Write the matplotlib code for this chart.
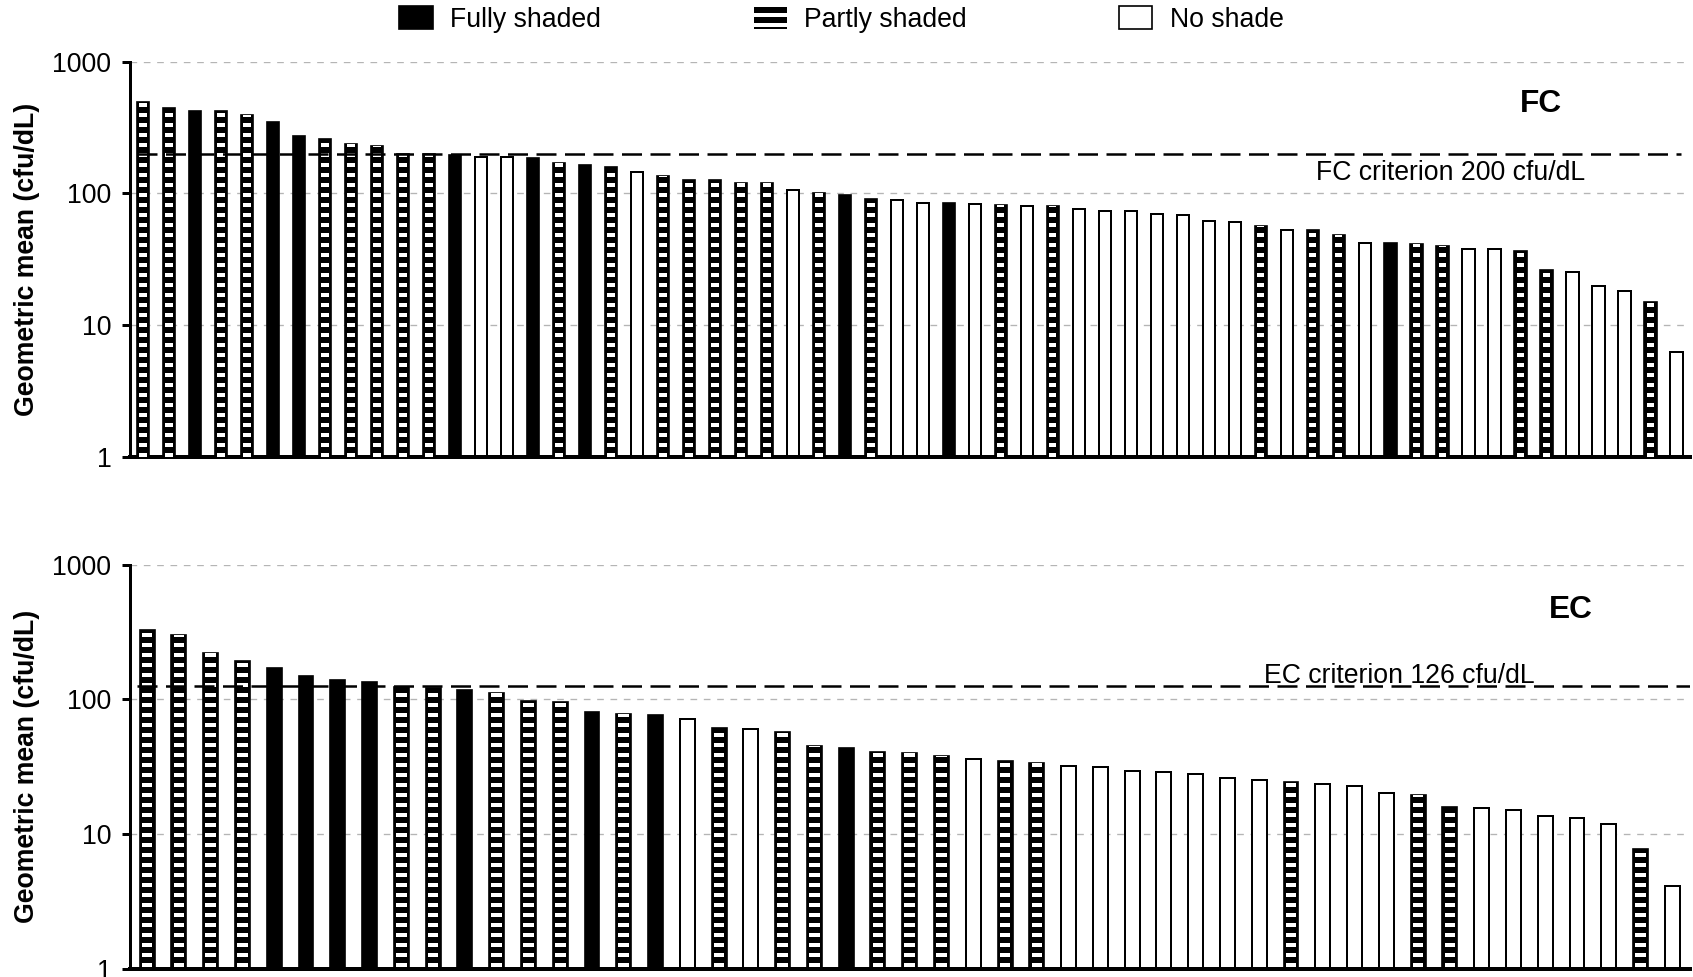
import numpy as np
import matplotlib
matplotlib.use('Agg')
import matplotlib.pyplot as plt
import matplotlib.patches as mpatches
from matplotlib.ticker import FixedLocator, FixedFormatter, NullLocator

# geometric means, sorted high to low as in the figure
fc_values = [491, 444, 419, 419, 396, 346, 272, 258, 238, 230,
             197, 197, 194, 189, 189, 185, 169, 163, 157, 146,
             136, 127, 127, 120, 119, 105, 101, 96.6, 90.6, 88.5,
             84.9, 84.4, 82.9, 81.5, 80, 80, 75.5, 73.3, 73.3, 69.5,
             68, 61.2, 60.8, 56.3, 52.8, 52.5, 48.1, 42.3, 41.8, 41.1,
             39.7, 37.8, 37.6, 36.6, 26.2, 25.3, 19.7, 18.0, 14.9, 6.2]
# F = fully shaded, P = partly shaded, N = no shade
fc_shade = ['P', 'P', 'F', 'P', 'P', 'F', 'F', 'P', 'P', 'P',
            'P', 'P', 'F', 'N', 'N', 'F', 'P', 'F', 'P', 'N',
            'P', 'P', 'P', 'P', 'P', 'N', 'P', 'F', 'P', 'N',
            'N', 'F', 'N', 'P', 'N', 'P', 'N', 'N', 'N', 'N',
            'N', 'N', 'N', 'P', 'N', 'P', 'P', 'N', 'F', 'P',
            'P', 'N', 'N', 'P', 'P', 'N', 'N', 'N', 'P', 'N']

ec_values = [325, 302, 221, 191, 171, 149, 138, 134, 124, 122,
             117, 111, 97.8, 95.6, 80.2, 77.5, 77, 70.8, 61.1, 60.4,
             57.1, 45.0, 43.5, 40.4, 39.7, 37.9, 36.1, 34.6, 33.5, 32.2,
             31.6, 29.5, 28.8, 28.1, 25.9, 25.1, 24.4, 23.6, 22.5, 20.2,
             19.3, 15.9, 15.7, 15.0, 13.5, 13.1, 11.9, 7.75, 4.13]
ec_shade = ['P', 'P', 'P', 'P', 'F', 'F', 'F', 'F', 'P', 'P',
            'F', 'P', 'P', 'P', 'F', 'P', 'F', 'N', 'P', 'N',
            'P', 'P', 'F', 'P', 'P', 'P', 'N', 'P', 'P', 'N',
            'N', 'N', 'N', 'N', 'N', 'N', 'P', 'N', 'N', 'N',
            'P', 'P', 'N', 'N', 'N', 'N', 'N', 'P', 'N']

fc_criterion = 200
ec_criterion = 126
y_ticks = [1, 10, 100, 1000]
y_ticklabels = ['1', '10', '100', '1000']
legend_labels = ['Fully shaded', 'Partly shaded', 'No shade']

plt.rcParams['font.family'] = ['Liberation Sans', 'DejaVu Sans']
plt.rcParams['hatch.linewidth'] = 2.4

DPI = 120
fig = plt.figure(figsize=(1693 / DPI, 977 / DPI), dpi=DPI)
ax_fc = fig.add_axes([0.0766, 0.5325, 0.9215, 0.4045])
ax_ec = fig.add_axes([0.0766, 0.0087, 0.9215, 0.4133])


def draw_panel(ax, values, shade, inner, xpad):
    x = np.arange(len(values))
    vals = np.array(values, dtype=float)
    sh = np.array(shade)
    w = 0.47
    dark = (sh == 'F') | (sh == 'P')
    part = sh == 'P'
    empty = sh == 'N'
    ax.set_yscale('log')
    ax.bar(x[dark], vals[dark], width=w, color='black', edgecolor='black', linewidth=1.0, zorder=2)
    # white dashes inside the partly shaded bars
    ax.bar(x[part], vals[part], width=w * inner, color='black', edgecolor='white',
           linewidth=0, hatch='--', zorder=3)
    ax.bar(x[empty], vals[empty], width=w, color='white', edgecolor='black', linewidth=1.2, zorder=2)

    ax.set_xlim(-xpad, len(values) - 1 + xpad)
    ax.set_ylim(1, 1000)
    ax.yaxis.set_major_locator(FixedLocator(y_ticks))
    ax.yaxis.set_major_formatter(FixedFormatter(y_ticklabels))
    ax.yaxis.set_minor_locator(NullLocator())
    ax.set_xticks([])
    ax.tick_params(axis='y', which='major', direction='out', length=4.8, width=1.8,
                   pad=6.2, labelsize=16, color='black')
    ax.yaxis.grid(True, which='major', linestyle=(0, (5, 5)), color='#b5b5b5', linewidth=0.8)
    ax.set_axisbelow(True)
    for s in ['top', 'right']:
        ax.spines[s].set_visible(False)
    ax.spines['left'].set_linewidth(1.8)
    ax.spines['bottom'].set_linewidth(2.4)
    ax.set_ylabel('Geometric mean (cfu/dL)', fontsize=16, fontweight='bold')
    ax.yaxis.set_label_coords(-0.066, 0.5)
    ax.yaxis.label.set_va('center')


draw_panel(ax_fc, fc_values, fc_shade, 0.62, 0.51)
draw_panel(ax_ec, ec_values, ec_shade, 0.71, 0.55)

ax_fc.axhline(fc_criterion, xmin=0.005, xmax=0.9945, color='black', linewidth=1.5,
              linestyle=(0, (8, 3.4)), zorder=4)
ax_fc.text(0.8464, 126, 'FC criterion 200 cfu/dL', transform=ax_fc.get_yaxis_transform(),
           ha='center', va='baseline', fontsize=16)
ax_fc.text(0.9047, 0.8935, 'FC', transform=ax_fc.transAxes, ha='center', va='center',
           fontsize=19, fontweight='bold')

ax_ec.axhline(ec_criterion, xmin=0.005, xmax=1.0, color='black', linewidth=1.5,
              linestyle=(0, (8, 3.4)), zorder=4)
ax_ec.text(0.814, 133, 'EC criterion 126 cfu/dL', transform=ax_ec.get_yaxis_transform(),
           ha='center', va='baseline', fontsize=16, zorder=5)
ax_ec.text(0.924, 0.888, 'EC', transform=ax_ec.transAxes, ha='center', va='center',
           fontsize=19, fontweight='bold')

handles = [mpatches.Patch(facecolor='black', edgecolor='black'),
           mpatches.Patch(facecolor='black', edgecolor='white', linewidth=0, hatch='--'),
           mpatches.Patch(facecolor='white', edgecolor='black', linewidth=1.0)]
fig.legend(handles, legend_labels, loc='center', bbox_to_anchor=(0.497, 0.980), ncol=3,
           frameon=False, fontsize=16, handlelength=1.24, handleheight=0.9,
           handletextpad=0.64, columnspacing=5.74)

fig.savefig('out.png', dpi=DPI)
